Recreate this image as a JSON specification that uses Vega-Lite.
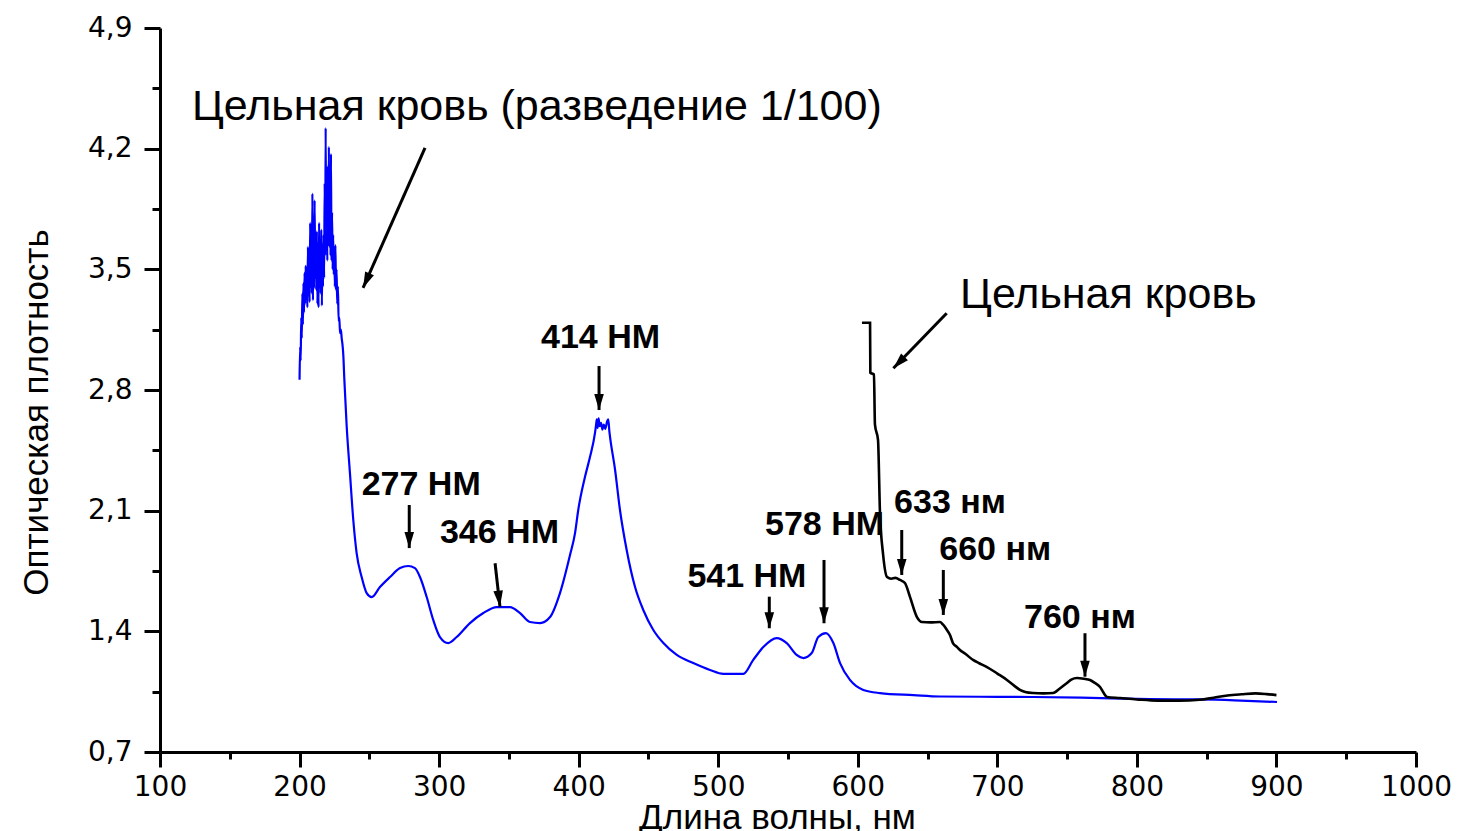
{
  "$schema": "https://vega.github.io/schema/vega-lite/v6.json",
  "width": 1256,
  "height": 724,
  "autosize": "none",
  "padding": {"left": 160, "top": 28, "right": 45, "bottom": 79},
  "background": "white",
  "config": {"view": {"stroke": null}, "font": "Liberation Sans"},
  "datasets": {
    "diluted": [
      {"nm": 200.0, "A": 2.86}, {"nm": 200.4, "A": 3.05}, {"nm": 200.8, "A": 2.97}, {"nm": 201.2, "A": 3.22},
      {"nm": 201.6, "A": 3.10}, {"nm": 202.0, "A": 3.36}, {"nm": 202.4, "A": 3.18}, {"nm": 202.8, "A": 3.42},
      {"nm": 203.2, "A": 3.25}, {"nm": 203.6, "A": 3.48}, {"nm": 204.0, "A": 3.30}, {"nm": 204.4, "A": 3.52},
      {"nm": 204.8, "A": 3.33}, {"nm": 205.2, "A": 3.45}, {"nm": 205.6, "A": 3.28}, {"nm": 206.0, "A": 3.63},
      {"nm": 206.4, "A": 3.35}, {"nm": 206.8, "A": 3.58}, {"nm": 207.2, "A": 3.31}, {"nm": 207.6, "A": 3.77},
      {"nm": 208.0, "A": 3.40}, {"nm": 208.4, "A": 3.62}, {"nm": 208.8, "A": 3.36}, {"nm": 209.2, "A": 3.94},
      {"nm": 209.6, "A": 3.32}, {"nm": 210.0, "A": 3.70}, {"nm": 210.4, "A": 3.39}, {"nm": 210.8, "A": 3.90},
      {"nm": 211.2, "A": 3.45}, {"nm": 211.6, "A": 3.66}, {"nm": 212.0, "A": 3.38}, {"nm": 212.4, "A": 3.72},
      {"nm": 212.8, "A": 3.30}, {"nm": 213.2, "A": 3.60}, {"nm": 213.6, "A": 3.28}, {"nm": 214.0, "A": 3.77},
      {"nm": 214.4, "A": 3.42}, {"nm": 214.8, "A": 3.55}, {"nm": 215.2, "A": 3.36}, {"nm": 215.6, "A": 3.73},
      {"nm": 216.0, "A": 3.29}, {"nm": 216.4, "A": 3.64}, {"nm": 216.8, "A": 3.40}, {"nm": 217.2, "A": 3.70},
      {"nm": 217.6, "A": 3.45}, {"nm": 218.0, "A": 4.00}, {"nm": 218.4, "A": 3.58}, {"nm": 218.7, "A": 4.32},
      {"nm": 219.1, "A": 3.62}, {"nm": 219.5, "A": 3.90}, {"nm": 219.9, "A": 3.55}, {"nm": 220.3, "A": 4.10},
      {"nm": 220.6, "A": 3.68}, {"nm": 221.0, "A": 4.21}, {"nm": 221.4, "A": 3.63}, {"nm": 221.8, "A": 3.92},
      {"nm": 222.2, "A": 3.58}, {"nm": 222.5, "A": 4.17}, {"nm": 222.9, "A": 3.55}, {"nm": 223.3, "A": 3.83},
      {"nm": 223.7, "A": 3.50}, {"nm": 224.1, "A": 3.70}, {"nm": 224.5, "A": 3.47}, {"nm": 224.9, "A": 3.62},
      {"nm": 225.3, "A": 3.40}, {"nm": 225.7, "A": 3.64}, {"nm": 226.1, "A": 3.38}, {"nm": 226.5, "A": 3.50},
      {"nm": 227.0, "A": 3.30}, {"nm": 227.5, "A": 3.40}, {"nm": 228.0, "A": 3.20}, {"nm": 228.5, "A": 3.22},
      {"nm": 229.0, "A": 3.13}, {"nm": 229.6, "A": 3.15}, {"nm": 230.2, "A": 3.10}, {"nm": 230.8, "A": 3.06},
      {"nm": 231.3, "A": 3.01}, {"nm": 232.1, "A": 2.86}, {"nm": 233.8, "A": 2.585}, {"nm": 236.1, "A": 2.319},
      {"nm": 238.5, "A": 2.046}, {"nm": 240.9, "A": 1.854}, {"nm": 244.5, "A": 1.715}, {"nm": 248.1, "A": 1.622},
      {"nm": 251.7, "A": 1.599}, {"nm": 257.6, "A": 1.657}, {"nm": 264.8, "A": 1.715}, {"nm": 272.0, "A": 1.767},
      {"nm": 277.9, "A": 1.779}, {"nm": 282.7, "A": 1.767}, {"nm": 286.3, "A": 1.715}, {"nm": 291.1, "A": 1.599},
      {"nm": 295.8, "A": 1.466}, {"nm": 300.6, "A": 1.367}, {"nm": 306.6, "A": 1.332}, {"nm": 312.6, "A": 1.367},
      {"nm": 322.1, "A": 1.448}, {"nm": 331.7, "A": 1.506}, {"nm": 341.3, "A": 1.541}, {"nm": 350.8, "A": 1.541},
      {"nm": 358.0, "A": 1.506}, {"nm": 365.1, "A": 1.454}, {"nm": 372.3, "A": 1.448}, {"nm": 379.5, "A": 1.483},
      {"nm": 386.6, "A": 1.622}, {"nm": 393.8, "A": 1.843}, {"nm": 397.4, "A": 1.970}, {"nm": 399.7, "A": 2.104},
      {"nm": 404.5, "A": 2.295}, {"nm": 408.1, "A": 2.411}, {"nm": 411.7, "A": 2.551}, {"nm": 412.5, "A": 2.60},
      {"nm": 413.0, "A": 2.63}, {"nm": 413.6, "A": 2.58}, {"nm": 414.3, "A": 2.635}, {"nm": 415.0, "A": 2.59},
      {"nm": 416.0, "A": 2.61}, {"nm": 417.0, "A": 2.57}, {"nm": 418.0, "A": 2.60}, {"nm": 419.0, "A": 2.575},
      {"nm": 420.5, "A": 2.62}, {"nm": 421.2, "A": 2.63}, {"nm": 422.0, "A": 2.56}, {"nm": 422.5, "A": 2.527},
      {"nm": 426.1, "A": 2.336}, {"nm": 429.6, "A": 2.104}, {"nm": 434.4, "A": 1.872}, {"nm": 440.4, "A": 1.657},
      {"nm": 446.3, "A": 1.524}, {"nm": 453.5, "A": 1.408}, {"nm": 460.7, "A": 1.332}, {"nm": 470.3, "A": 1.263},
      {"nm": 482.1, "A": 1.216}, {"nm": 494.1, "A": 1.176}, {"nm": 503.6, "A": 1.153}, {"nm": 518.0, "A": 1.153},
      {"nm": 525.1, "A": 1.234}, {"nm": 532.3, "A": 1.309}, {"nm": 541.9, "A": 1.361}, {"nm": 549.1, "A": 1.332},
      {"nm": 556.2, "A": 1.263}, {"nm": 561.0, "A": 1.245}, {"nm": 567.0, "A": 1.274}, {"nm": 571.7, "A": 1.367},
      {"nm": 577.2, "A": 1.390}, {"nm": 582.5, "A": 1.332}, {"nm": 587.3, "A": 1.216}, {"nm": 594.4, "A": 1.118},
      {"nm": 604.0, "A": 1.060}, {"nm": 615.9, "A": 1.042}, {"nm": 640.0, "A": 1.030}, {"nm": 658.9, "A": 1.022},
      {"nm": 700.0, "A": 1.020}, {"nm": 725.6, "A": 1.019}, {"nm": 760.0, "A": 1.015}, {"nm": 809.4, "A": 1.007},
      {"nm": 845.2, "A": 1.005}, {"nm": 870.0, "A": 1.000}, {"nm": 900.4, "A": 0.990}
    ],
    "whole": [
      {"nm": 603.0, "A": 3.19}, {"nm": 608.8, "A": 3.19}, {"nm": 609.0, "A": 2.90}, {"nm": 611.6, "A": 2.89},
      {"nm": 612.3, "A": 2.60}, {"nm": 614.5, "A": 2.51}, {"nm": 615.9, "A": 2.09}, {"nm": 618.1, "A": 1.85},
      {"nm": 621.0, "A": 1.715}, {"nm": 624.0, "A": 1.705}, {"nm": 627.0, "A": 1.71}, {"nm": 630.3, "A": 1.698},
      {"nm": 633.8, "A": 1.68}, {"nm": 637.4, "A": 1.60}, {"nm": 642.4, "A": 1.483}, {"nm": 646.0, "A": 1.454},
      {"nm": 652.0, "A": 1.452}, {"nm": 658.9, "A": 1.454}, {"nm": 661.0, "A": 1.44}, {"nm": 663.9, "A": 1.408},
      {"nm": 666.0, "A": 1.38}, {"nm": 668.2, "A": 1.332}, {"nm": 671.0, "A": 1.31}, {"nm": 673.2, "A": 1.292},
      {"nm": 677.0, "A": 1.27}, {"nm": 682.6, "A": 1.234}, {"nm": 687.0, "A": 1.215}, {"nm": 692.6, "A": 1.193},
      {"nm": 700.0, "A": 1.155}, {"nm": 706.9, "A": 1.118}, {"nm": 712.0, "A": 1.085}, {"nm": 716.2, "A": 1.06},
      {"nm": 720.0, "A": 1.048}, {"nm": 725.6, "A": 1.042}, {"nm": 733.0, "A": 1.04}, {"nm": 739.9, "A": 1.042},
      {"nm": 745.0, "A": 1.07}, {"nm": 749.9, "A": 1.10}, {"nm": 753.0, "A": 1.12}, {"nm": 757.1, "A": 1.129},
      {"nm": 762.0, "A": 1.125}, {"nm": 766.4, "A": 1.118}, {"nm": 770.0, "A": 1.10}, {"nm": 773.6, "A": 1.077},
      {"nm": 776.0, "A": 1.045}, {"nm": 778.6, "A": 1.019}, {"nm": 787.9, "A": 1.013}, {"nm": 800.0, "A": 1.005},
      {"nm": 815.0, "A": 0.998}, {"nm": 830.0, "A": 0.998}, {"nm": 845.0, "A": 1.003}, {"nm": 855.0, "A": 1.015},
      {"nm": 865.0, "A": 1.028}, {"nm": 875.0, "A": 1.035}, {"nm": 885.0, "A": 1.04}, {"nm": 893.0, "A": 1.036},
      {"nm": 900.0, "A": 1.03}
    ],
    "arrows": [
      {"x0": 289.9, "y0": 4.204, "x1": 245.5, "y1": 3.392, "angle": 23.9},
      {"x0": 663.7, "y0": 3.245, "x1": 625.5, "y1": 2.926, "angle": 44.2},
      {"x0": 278.6, "y0": 2.133, "x1": 278.6, "y1": 1.883, "angle": 0},
      {"x0": 340.1, "y0": 1.795, "x1": 343.6, "y1": 1.543, "angle": -6.6},
      {"x0": 414.6, "y0": 2.939, "x1": 414.6, "y1": 2.684, "angle": 0},
      {"x0": 536.6, "y0": 1.601, "x1": 536.6, "y1": 1.418, "angle": 0},
      {"x0": 575.8, "y0": 1.814, "x1": 575.8, "y1": 1.447, "angle": 0},
      {"x0": 631.5, "y0": 1.988, "x1": 631.5, "y1": 1.727, "angle": 0},
      {"x0": 661.3, "y0": 1.756, "x1": 661.3, "y1": 1.495, "angle": 0},
      {"x0": 762.8, "y0": 1.389, "x1": 762.8, "y1": 1.137, "angle": 0}
    ],
    "peaks": [
      {"nm": 244.5, "A": 2.191, "text": "277 НМ"},
      {"nm": 300.6, "A": 1.911, "text": "346 НМ"},
      {"nm": 373.0, "A": 3.044, "text": "414 НМ"},
      {"nm": 477.9, "A": 1.655, "text": "541 НМ"},
      {"nm": 533.5, "A": 1.959, "text": "578 НМ"},
      {"nm": 626.0, "A": 2.085, "text": "633 нм"},
      {"nm": 658.4, "A": 1.814, "text": "660 нм"},
      {"nm": 719.1, "A": 1.418, "text": "760 нм"}
    ],
    "captions": [
      {"nm": 122.9, "A": 4.366, "text": "Цельная кровь (разведение 1/100)"},
      {"nm": 673.3, "A": 3.276, "text": "Цельная кровь"}
    ]
  },
  "layer": [
    {
      "data": {"name": "diluted"},
      "mark": {"type": "line", "color": "#0000ff", "strokeWidth": 2.2, "interpolate": "monotone"},
      "encoding": {
        "x": {
          "field": "nm", "type": "quantitative",
          "scale": {"domain": [100, 1000], "nice": false, "zero": false},
          "axis": {
            "values": [100, 150, 200, 250, 300, 350, 400, 450, 500, 550, 600, 650, 700, 750, 800, 850, 900, 950, 1000],
            "grid": false,
            "domainColor": "black", "domainWidth": 3,
            "tickColor": "black", "tickWidth": 3,
            "tickSize": {"condition": {"test": "datum.value % 100 === 0", "value": 15}, "value": 7},
            "labelExpr": "datum.value % 100 === 0 ? format(datum.value, 'd') : ''",
            "labelFont": "DejaVu Sans", "labelFontSize": 28, "labelColor": "black",
            "labelPadding": 6, "labelFlush": false, "labelOverlap": false,
            "title": "Длина волны, нм",
            "titleFont": "Liberation Sans", "titleFontSize": 35, "titleFontWeight": "normal", "titleColor": "black",
            "titleX": 617, "titleY": 76, "titleAlign": "center", "titleBaseline": "alphabetic"
          }
        },
        "y": {
          "field": "A", "type": "quantitative",
          "scale": {"domain": [0.7, 4.9], "nice": false, "zero": false},
          "axis": {
            "values": [0.7, 1.05, 1.4, 1.75, 2.1, 2.45, 2.8, 3.15, 3.5, 3.85, 4.2, 4.55, 4.9],
            "grid": false,
            "domainColor": "black", "domainWidth": 3,
            "tickColor": "black", "tickWidth": 3,
            "tickSize": {"condition": {"test": "round(datum.value / 0.35) % 2 === 0", "value": 16}, "value": 8},
            "labelExpr": "round(datum.value / 0.35) % 2 === 0 ? replace(format(datum.value, '.1f'), '.', ',') : ''",
            "labelFont": "DejaVu Sans", "labelFontSize": 28, "labelColor": "black",
            "labelPadding": 12, "labelFlush": false, "labelOverlap": false,
            "title": "Оптическая плотность",
            "titleFont": "Liberation Sans", "titleFontSize": 35, "titleFontWeight": "normal", "titleColor": "black",
            "titleAngle": -90, "titleX": -113, "titleY": 384, "titleAlign": "center", "titleBaseline": "alphabetic"
          }
        }
      }
    },
    {
      "data": {"name": "whole"},
      "mark": {"type": "line", "color": "black", "strokeWidth": 2.6, "interpolate": "monotone"},
      "encoding": {
        "x": {"field": "nm", "type": "quantitative"},
        "y": {"field": "A", "type": "quantitative"}
      }
    },
    {
      "data": {"name": "arrows"},
      "mark": {"type": "rule", "color": "black", "strokeWidth": 3},
      "encoding": {
        "x": {"field": "x0", "type": "quantitative"},
        "y": {"field": "y0", "type": "quantitative"},
        "x2": {"field": "x1"},
        "y2": {"field": "y1"}
      }
    },
    {
      "data": {"name": "arrows"},
      "mark": {"type": "point", "shape": "M0,0L-0.6,-2L0.6,-2Z", "filled": true, "color": "black", "size": 256, "opacity": 1},
      "encoding": {
        "x": {"field": "x1", "type": "quantitative"},
        "y": {"field": "y1", "type": "quantitative"},
        "angle": {"field": "angle", "type": "quantitative", "scale": null}
      }
    },
    {
      "data": {"name": "peaks"},
      "mark": {"type": "text", "align": "left", "baseline": "alphabetic", "font": "Liberation Sans", "fontWeight": "bold", "fontSize": 34, "color": "black"},
      "encoding": {
        "x": {"field": "nm", "type": "quantitative"},
        "y": {"field": "A", "type": "quantitative"},
        "text": {"field": "text"}
      }
    },
    {
      "data": {"name": "captions"},
      "mark": {"type": "text", "align": "left", "baseline": "alphabetic", "font": "Liberation Sans", "fontSize": 43, "color": "black"},
      "encoding": {
        "x": {"field": "nm", "type": "quantitative"},
        "y": {"field": "A", "type": "quantitative"},
        "text": {"field": "text"}
      }
    }
  ]
}
